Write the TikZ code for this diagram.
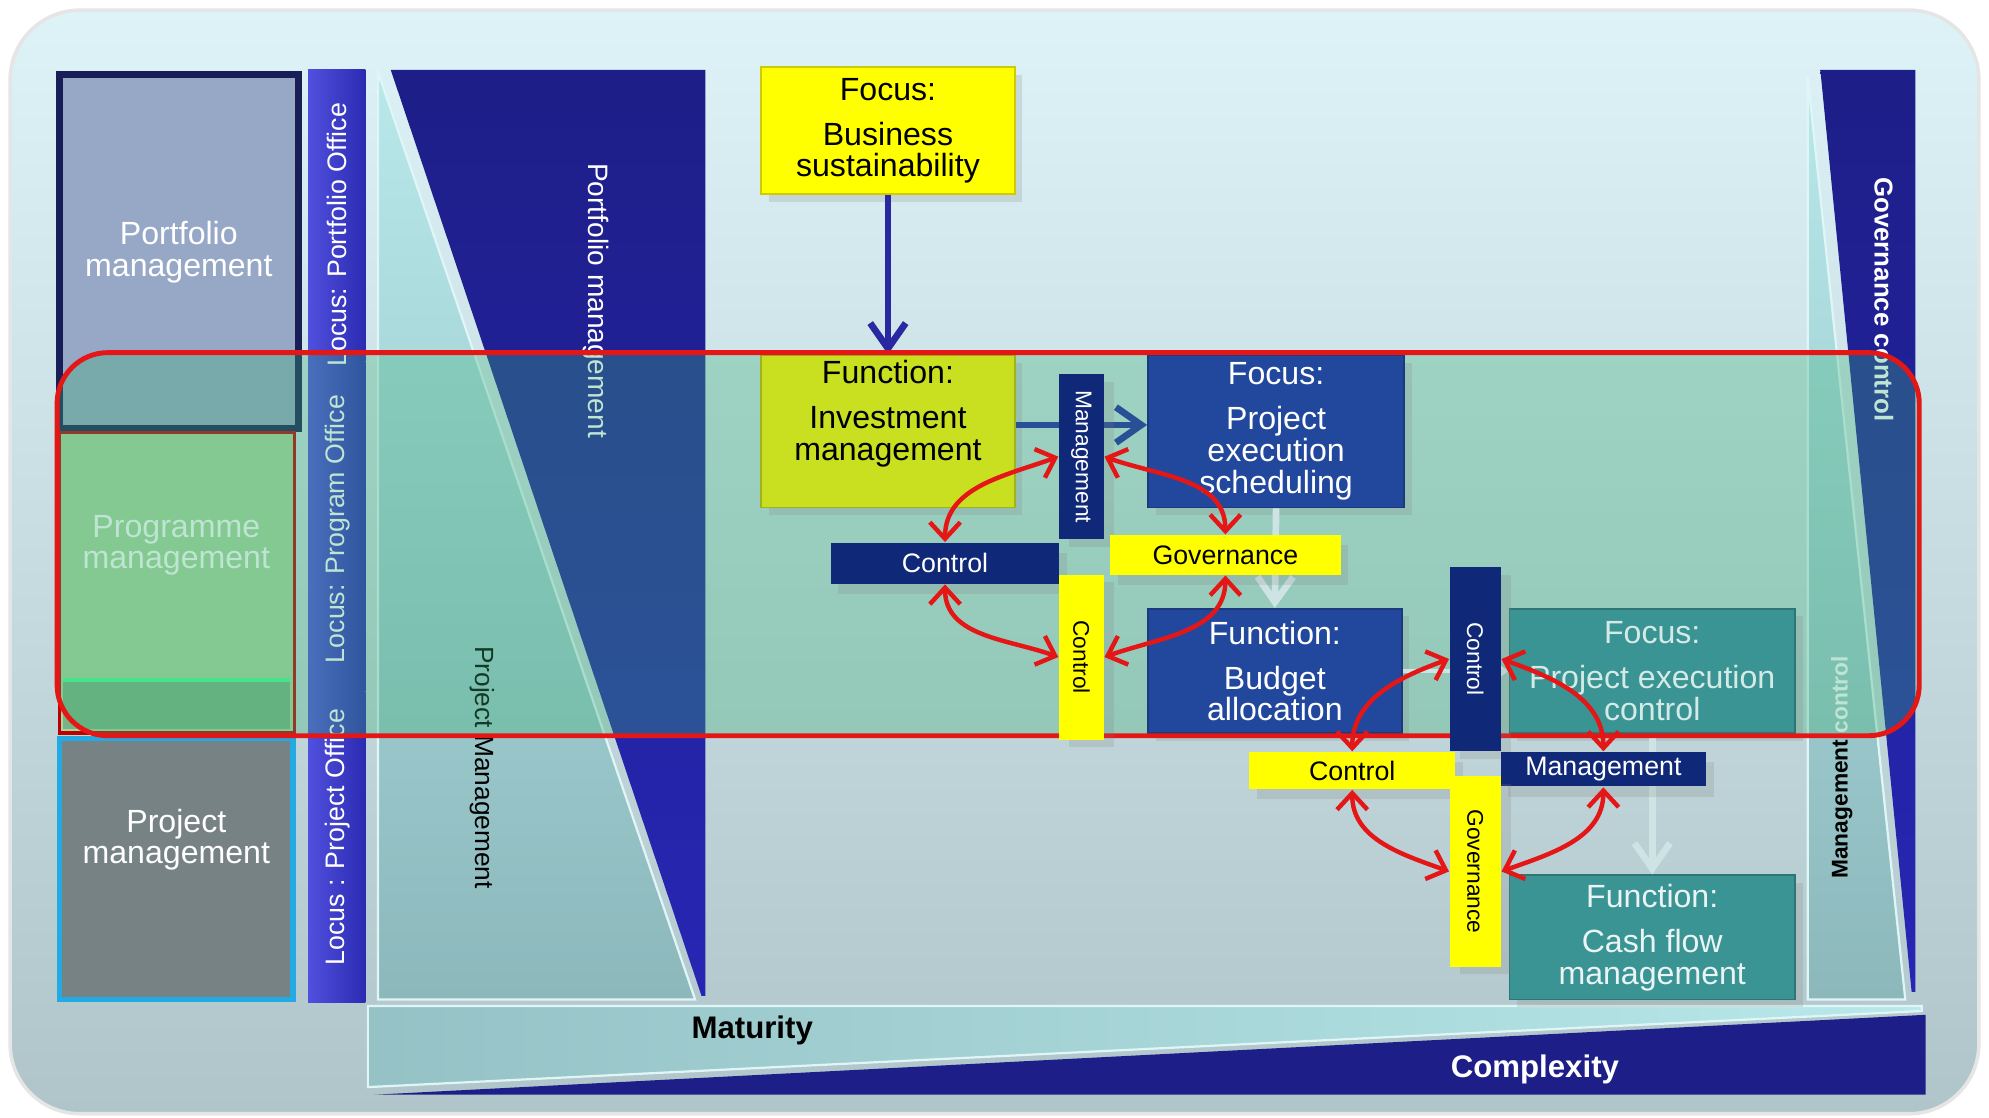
\documentclass[tikz,border=0pt]{standalone}
\usepackage{fontspec}
\setmainfont{Liberation Sans}
\usepackage{xcolor}
\usepackage{graphicx}
\usepackage{tikz}
\usetikzlibrary{arrows.meta,shadows}

\definecolor{bgtop}{RGB}{221,243,247}
\definecolor{bgbot}{RGB}{176,197,201}
\definecolor{deepnavy}{RGB}{30,30,136}
\definecolor{navylow}{RGB}{38,38,180}
\definecolor{barnavy}{RGB}{16,40,120}
\definecolor{locusblue}{RGB}{42,42,178}
\definecolor{locuslight}{RGB}{80,80,222}
\definecolor{boxblue}{RGB}{34,72,158}
\definecolor{boxteal}{RGB}{58,148,148}
\definecolor{tealtop}{RGB}{184,232,234}
\definecolor{tealbot}{RGB}{140,184,188}
\definecolor{bandteal}{RGB}{60,175,120}
\definecolor{redline}{RGB}{228,22,22}
\definecolor{paleline}{RGB}{206,228,228}
\definecolor{arrownavy}{RGB}{40,40,160}
\definecolor{arrowblue}{RGB}{40,80,150}
\definecolor{barYellow}{RGB}{255,255,0}
\definecolor{investgreen}{RGB}{200,224,32}
\definecolor{pfbox}{RGB}{150,168,198}
\definecolor{pgbox}{RGB}{166,215,158}
\definecolor{pgband}{RGB}{122,180,134}
\definecolor{pjbox}{RGB}{118,130,132}
\definecolor{pjline}{RGB}{36,170,226}
\definecolor{darkframe}{RGB}{26,30,86}
\definecolor{paletext}{RGB}{212,234,230}

\begin{document}
\begin{tikzpicture}[
  every node/.style={inner sep=0pt},
  boxtxt/.style={font=\fontsize{7.2}{7.1}\selectfont},
  bartxt/.style={font=\fontsize{6}{6}\selectfont},
  vbartxt/.style={font=\fontsize{5.1}{5.1}\selectfont},
  sidetxt/.style={font=\fontsize{6}{6}\selectfont},
  infobox/.style={boxtxt, align=center, fill=#1, draw=#1!80!black, line width=0.4pt,
    drop shadow={opacity=0.2,shadow xshift=0.6mm,shadow yshift=-0.6mm}},
  hbar/.style={bartxt, fill=#1, minimum height=0.31cm,
    drop shadow={opacity=0.2,shadow xshift=0.6mm,shadow yshift=-0.8mm}},
  vbar/.style={vbartxt, fill=#1, minimum width=0.35cm,
    drop shadow={opacity=0.2,shadow xshift=0.8mm,shadow yshift=-0.6mm}},
  cyclearr/.style={draw=redline, line width=1pt,
    {Straight Barb[length=1.3mm,width=2.4mm]}-{Straight Barb[length=1.3mm,width=2.4mm]}},
  flowarr/.style={line width=1.5pt, -{Straight Barb[length=2mm,width=2.8mm]}},
]
  \useasboundingbox (0,0) rectangle (15.68,-8.81);
  \shade[top color=bgtop, bottom color=bgbot, draw=white!80!gray, line width=0.8pt,
    rounded corners=0.55cm] (0.08,-0.08) rectangle (15.60,-8.78);

  % levels
  \path[fill=pfbox, draw=darkframe, line width=1.6pt] (0.47,-0.59) rectangle (2.35,-3.38);
  \path[fill=pgbox, draw=red!75!black, line width=0.8pt] (0.47,-3.41) rectangle (2.32,-5.78);
  \path[fill=pgband] (0.50,-5.36) rectangle (2.29,-5.75);
  \draw[green!60!cyan!70!white, line width=1pt] (0.50,-5.36) -- (2.29,-5.36);
  \path[fill=pjbox, draw=pjline, line width=1.2pt] (0.47,-5.82) rectangle (2.31,-7.88);
  \node[boxtxt, text=white, align=center] (pflevel) at (1.41,-1.99) {Portfolio\\management};
  \node[boxtxt, text=white, align=center] (pglevel) at (1.39,-4.30) {Programme\\management};
  \node[boxtxt, text=white, align=center] (pjlevel) at (1.39,-6.62) {Project\\management};

  \foreach \ytop/\ybot in {0.55/2.85, 2.85/5.45, 5.45/7.90}
    \shade[left color=locuslight, right color=locusblue] (2.43,-\ytop) rectangle (2.88,-\ybot);
  \node[sidetxt, text=white, rotate=90] (locpf) at (2.66,-1.85) {Locus: Portfolio Office};
  \node[sidetxt, text=white, rotate=90] (locpg) at (2.66,-4.17) {Locus: Program Office};
  \node[sidetxt, text=white, rotate=90] (locpj) at (2.66,-6.60) {Locus : Project Office};

  % wedges
  \shade[top color=tealtop, bottom color=tealbot, draw=white!55!tealtop, line width=0.5pt]
    (2.98,-0.57) -- (5.48,-7.88) -- (2.98,-7.88) -- cycle;
  \shade[top color=deepnavy, bottom color=navylow]
    (3.08,-0.55) -- (5.56,-0.55) -- (5.56,-7.85) -- (5.53,-7.85) -- cycle;
  \node[font=\fontsize{6.3}{6.3}\selectfont, text=white, rotate=-90] (pfwedge) at (4.70,-2.37) {Portfolio management};
  \node[font=\fontsize{5.9}{5.9}\selectfont, rotate=-90] (pjwedge) at (3.80,-6.05) {Project Management};

  \shade[top color=tealtop, bottom color=tealbot, draw=white!55!tealtop, line width=0.5pt]
    (14.25,-0.60) -- (15.02,-7.88) -- (14.25,-7.88) -- cycle;
  \shade[top color=deepnavy, bottom color=navylow]
    (14.35,-0.55) -- (15.10,-0.55) -- (15.10,-7.82) -- (15.07,-7.82) -- cycle;
  \node[font=\bfseries\fontsize{5.8}{5.8}\selectfont, text=white, rotate=-90] (govwedge) at (14.85,-2.36) {Governance control};
  \node[font=\bfseries\fontsize{5.1}{5.1}\selectfont, rotate=90] (mgmtwedge) at (14.52,-6.05)
    {{\color{black}Management} {\color{white}control}};

  \shade[left color=tealbot!80!tealtop, right color=tealtop, draw=white!55!tealtop, line width=0.5pt]
    (2.90,-7.93) -- (15.15,-7.93) -- (15.15,-7.97) -- (2.90,-8.57) -- cycle;
  \path[fill=deepnavy] (2.95,-8.63) -- (15.18,-8.63) -- (15.18,-8.00) -- cycle;
  \node[font=\bfseries\fontsize{7}{7}\selectfont] (maturity) at (5.93,-8.12) {Maturity};
  \node[font=\bfseries\fontsize{7}{7}\selectfont, text=white] (complexity) at (12.10,-8.43) {Complexity};

  \path[fill=bandteal, fill opacity=0.33, rounded corners=0.4cm] (0.45,-2.78) rectangle (15.13,-5.80);

  % functions and foci
  \node[infobox=barYellow, minimum width=2cm, minimum height=1cm] (business) at (7.00,-1.03)
    {Focus:\\[3pt]Business\\sustainability};
  \node[infobox=investgreen, minimum width=2cm, minimum height=1.2cm] (invest) at (7.00,-3.40) {};
  \node[boxtxt, align=center] (investtxt) at (7.00,-3.26) {Function:\\[3pt]Investment\\management};
  \node[infobox=boxblue, text=white, minimum width=2.02cm, minimum height=1.2cm] (sched) at (10.06,-3.40)
    {Focus:\\[3pt]Project\\execution\\scheduling};
  \node[infobox=boxblue, text=white, minimum width=2cm, minimum height=0.98cm] (budget) at (10.05,-5.29)
    {Function:\\[3pt]Budget\\allocation};
  \node[infobox=boxteal, text=paletext, minimum width=2.25cm, minimum height=0.98cm] (pexec) at (13.025,-5.29)
    {Focus:\\[3pt]Project execution\\control};
  \node[infobox=boxteal, text=white!90!boxteal, minimum width=2.25cm, minimum height=0.98cm] (cash) at (13.025,-7.39)
    {Function:\\[3pt]Cash flow\\management};

  \draw[flowarr, paleline] (sched.south) -- (budget.north);
  \draw[flowarr, paleline] (pexec.south) -- (cash.north);
  \draw[flowarr, paleline, line width=1pt] (budget.east) -- (pexec.west);
  \draw[flowarr, arrownavy] (business.south) -- (invest.north);
  \draw[flowarr, arrowblue] ([yshift=0.05cm]invest.east) -- ([yshift=0.05cm]sched.west);

  \draw[redline, line width=1.1pt, rounded corners=0.4cm] (0.45,-2.78) rectangle (15.13,-5.80);

  % crosses
  \node[vbar=barnavy, text=white, minimum height=1.30cm] (mgmtA) at (8.525,-3.60) {\rotatebox{-90}{Management}};
  \node[hbar=barnavy, text=white, minimum width=1.80cm, minimum height=0.32cm] (ctrlA) at (7.45,-4.44) {Control};
  \node[hbar=barYellow, minimum width=1.82cm] (govA) at (9.66,-4.375) {Governance};
  \node[vbar=barYellow, minimum height=1.30cm] (ctrlB) at (8.525,-5.18) {\rotatebox{-90}{Control}};

  \node[vbar=barnavy, text=white, minimum width=0.40cm, minimum height=1.45cm] (ctrlC) at (11.63,-5.195) {\rotatebox{-90}{Control}};
  \node[hbar=barYellow, minimum width=1.62cm, minimum height=0.29cm] (ctrlD) at (10.66,-6.075) {Control};
  \node[hbar=barnavy, text=white, minimum width=1.62cm, minimum height=0.27cm] (mgmtB) at (12.64,-6.065) {Management};
  \node[vbar=barYellow, minimum width=0.40cm, minimum height=1.50cm] (govB) at (11.63,-6.87) {\rotatebox{-90}{Governance}};

  \draw[cyclearr] (mgmtA.west) to[out=200,in=90] (ctrlA.north);
  \draw[cyclearr] (mgmtA.east) to[out=-20,in=90] (govA.north);
  \draw[cyclearr] (ctrlB.west) to[out=160,in=-90] (ctrlA.south);
  \draw[cyclearr] (ctrlB.east) to[out=20,in=-90] (govA.south);
  \draw[cyclearr] (ctrlC.west) to[out=200,in=90] (ctrlD.north);
  \draw[cyclearr] (ctrlC.east) to[out=-20,in=90] (mgmtB.north);
  \draw[cyclearr] (govB.west) to[out=160,in=-90] (ctrlD.south);
  \draw[cyclearr] (govB.east) to[out=20,in=-90] (mgmtB.south);
\end{tikzpicture}
\end{document}
